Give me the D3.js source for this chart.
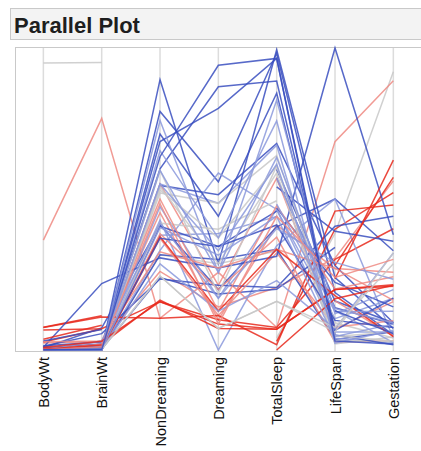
<!DOCTYPE html>
<html>
<head>
<meta charset="utf-8">
<script src="https://cdn.jsdelivr.net/npm/d3@7"></script>
<style>
  html, body { margin: 0; padding: 0; background: #fff; }
  svg { display: block; }
</style>
</head>
<body>
<svg id="chart" width="421" height="451"></svg>
<script>
// ---- Data (Mammal sleep), NA = null ----
const species = ["African elephant","African giant pouched rat","Arctic Fox","Arctic ground squirrel","Asian elephant","Baboon","Big brown bat","Brazilian tapir","Cat","Chimpanzee","Chinchilla","Cow","Desert hedgehog","Donkey","Eastern American mole","Echidna","European hedgehog","Galago","Genet","Giant armadillo","Giraffe","Goat","Golden hamster","Gorilla","Gray seal","Gray wolf","Ground squirrel","Guinea pig","Horse","Jaguar","Kangaroo","Lesser short-tailed shrew","Little brown bat","Man","Mole rat","Mountain beaver","Mouse","Musk shrew","N. American opossum","Nine-banded armadillo","Okapi","Owl monkey","Patas monkey","Phanlanger","Pig","Rabbit","Raccoon","Rat","Red fox","Rhesus monkey","Rock hyrax (Hetero. b)","Rock hyrax (Procavia hab)","Roe deer","Sheep","Slow loris","Star nosed mole","Tenrec","Tree hyrax","Tree shrew","Vervet","Water opossum","Yellow-bellied marmot"];
const bodyWt = [6654,1,3.385,0.92,2547,10.55,0.023,160,3.3,52.16,0.425,465,0.55,187.1,0.075,3,0.785,0.2,1.41,60,529,27.66,0.12,207,85,36.33,0.101,1.04,521,100,35,0.005,0.01,62,0.122,1.35,0.023,0.048,1.7,3.5,250,0.48,10,1.62,192,2.5,4.288,0.28,4.235,6.8,0.75,3.6,14.83,55.5,1.4,0.06,0.9,2,0.104,4.19,3.5,4.05];
const brainWt = [5712,6.6,44.5,5.7,4603,179.5,0.3,169,25.6,440,6.4,423,2.4,419,1.2,25,3.5,5,17.5,81,680,115,1,406,325,119.5,4,5.5,655,157,56,0.14,0.25,1320,3,8.1,0.4,0.33,6.3,10.8,490,15.5,115,11.4,180,12.1,39.2,1.9,50.4,179,12.3,21,98.2,175,12.5,1,2.6,12.3,2.5,58,3.9,17];
const nonDreaming = [null,6.3,null,null,2.1,9.1,15.8,5.2,10.9,8.3,11,3.2,7.6,null,6.3,8.6,6.6,9.5,4.8,12,null,3.3,11,null,4.7,null,10.4,7.4,2.1,null,null,7.7,17.9,6.1,8.2,8.4,11.9,10.8,13.8,14.3,null,15.2,10,11.9,6.5,7.5,null,10.6,7.4,8.4,5.7,4.9,null,3.2,null,8.1,11,4.9,13.2,9.7,12.8,null];
const dreaming = [null,2,null,null,1.8,0.7,3.9,1,3.6,1.4,1.5,0.7,2.7,null,2.1,0,4.1,1.2,1.3,6.1,0.3,0.5,3.4,null,1.5,null,3.4,0.8,0.8,null,null,1.4,2,1.9,2.4,2.8,1.3,2,5.6,3.1,1,1.8,0.9,1.8,1.9,0.9,null,2.6,2.4,1.2,0.9,0.5,null,0.6,null,2.2,2.3,0.5,2.6,0.6,6.6,null];
const totalSleep = [3.3,8.3,12.5,16.5,3.9,9.8,19.7,6.2,14.5,9.7,12.5,3.9,10.3,3.1,8.4,8.6,10.7,10.7,6.1,18.1,null,3.8,14.4,12,6.2,13,13.8,8.2,2.9,10.8,null,9.1,19.9,8,10.6,11.2,13.2,12.8,19.4,17.4,null,17,10.9,13.7,8.4,8.4,12.5,13.2,9.8,9.6,6.6,5.4,2.6,3.8,11,10.3,13.3,5.4,15.8,10.3,19.4,null];
const lifeSpan = [38.6,4.5,14,null,69,27,19,30.4,28,50,7,30,null,40,3.5,50,6,10.4,34,7,28,20,3.9,39.3,41,16.2,9,7.6,46,22.4,16.3,2.6,24,100,null,null,3.2,2,5,6.5,23.6,12,20.2,13,27,18,13.7,4.7,9.8,29,7,6,17,20,12.7,3.5,4.5,7.5,2.3,24,3,13];
const gestation = [645,42,60,25,624,180,35,392,63,230,112,281,null,365,42,28,42,120,null,null,400,148,16,252,310,63,28,68,336,100,33,21.5,50,267,30,45,19,30,12,120,440,140,170,17,115,31,63,21,52,164,225,225,150,151,90,null,60,200,46,210,14,38];
const danger = [3,3,1,3,4,4,1,4,1,1,4,5,2,5,1,2,2,2,1,1,5,5,2,1,1,1,3,4,5,1,4,4,1,1,1,3,3,3,1,1,5,2,4,2,4,5,2,3,1,2,2,3,5,5,2,2,2,3,2,4,1,1];

// Axis names and axis ranges (tick bounds)
const dims = ["BodyWt","BrainWt","NonDreaming","Dreaming","TotalSleep","LifeSpan","Gestation"];
const axisMin = [0, 0, 0, 0, 2.6, 0, 0];
const axisMax = [7000, 6000, 20, 7, 20, 100, 700];
const dangerLevels = [1, 2, 3, 4, 5];
const dangerColors = ["#3a4fbf", "#8b99dc", "#c8c8c8", "#ee8a83", "#e8291c"];

const columns = [bodyWt, brainWt, nonDreaming, dreaming, totalSleep, lifeSpan, gestation];
const rows = species.map((s, i) => ({
  species: s,
  danger: danger[i],
  values: columns.map(c => c[i])
}));

const svg = d3.select("#chart");
const yTop = 48, yBottom = 350;

// Title box
svg.append("rect")
  .attr("x", 10.5).attr("y", 8.5).attr("width", 430).attr("height", 31)
  .attr("fill", "#f3f3f3").attr("stroke", "#c9c9c9").attr("stroke-width", 1);
svg.append("text")
  .attr("x", 14).attr("y", 32.5)
  .attr("font-family", "Liberation Sans, Arial, Helvetica, sans-serif")
  .attr("font-weight", "bold").attr("font-size", 22)
  .attr("fill", "#1e1e1e")
  .text("Parallel Plot");

// Plot frame
svg.append("rect")
  .attr("x", 15.5).attr("y", 47.5).attr("width", 420).attr("height", 304)
  .attr("fill", "#fff").attr("stroke", "#c9c9c9").attr("stroke-width", 1);

const x = d3.scalePoint().domain(dims).range([14.2, 422.5]).padding(0.5);
const y = {};
dims.forEach((d, i) => {
  y[d] = d3.scaleLinear().domain([axisMin[i], axisMax[i]]).range([yBottom, yTop]);
});

// Axis lines
svg.append("g").selectAll("line").data(dims).join("line")
  .attr("x1", d => x(d)).attr("x2", d => x(d))
  .attr("y1", 48).attr("y2", 351)
  .attr("stroke", "#dcdcdc").attr("stroke-width", 1.5);

const color = d3.scaleOrdinal().domain(dangerLevels).range(dangerColors);

const line = d3.line()
  .defined(p => p.v != null)
  .x(p => x(p.dim))
  .y(p => y[p.dim](p.v));

svg.append("g").attr("fill", "none")
  .selectAll("path").data(rows).join("path")
  .attr("d", r => line(r.values.map((v, i) => ({ dim: dims[i], v }))))
  .attr("stroke", r => color(r.danger))
  .attr("stroke-width", 1.5)
  .attr("stroke-opacity", 0.85)
  .attr("stroke-linejoin", "miter");

// Axis labels (rotated)
svg.append("g").selectAll("text").data(dims).join("text")
  .attr("transform", d => `translate(${x(d) + 5.5},357) rotate(-90)`)
  .attr("text-anchor", "end")
  .attr("font-family", "Liberation Sans, Arial, Helvetica, sans-serif")
  .attr("font-size", 14.5)
  .attr("fill", "#111")
  .text(d => d);
</script>
</body>
</html>
